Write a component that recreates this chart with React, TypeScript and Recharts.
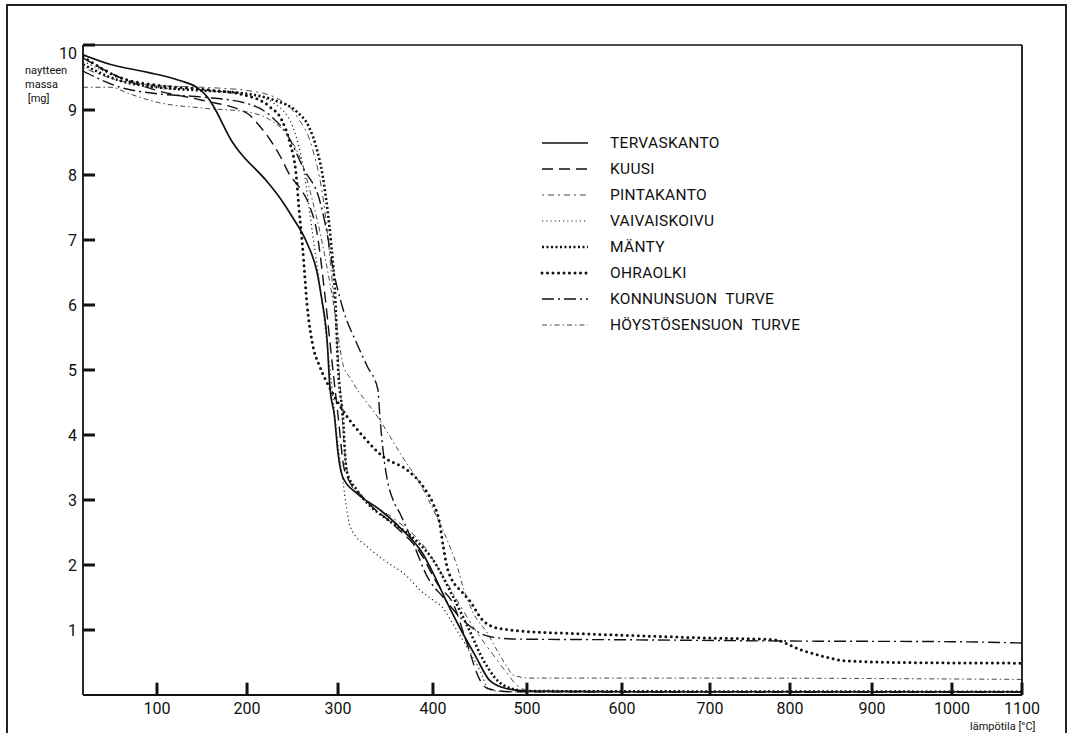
import React from "react";
import { LineChart, Line, XAxis, YAxis, Legend, ReferenceLine } from "recharts";

// ==================== DATA ====================
const X_TICKS = [100, 200, 300, 400, 500, 600, 700, 800, 900, 1000, 1100];
const Y_TICKS = [1, 2, 3, 4, 5, 6, 7, 8, 9, 10];

const SERIES_NAMES = [
  "TERVASKANTO",
  "KUUSI",
  "PINTAKANTO",
  "VAIVAISKOIVU",
  "MÄNTY",
  "OHRAOLKI",
  "KONNUNSUON  TURVE",
  "HÖYSTÖSENSUON  TURVE",
];

// [lämpötila °C, massa mg]
const TERVASKANTO = [
  [20, 9.85], [50, 9.7], [90, 9.58], [126, 9.45], [144, 9.35], [156, 9.2], [163, 9.05],
  [184, 8.5], [192, 8.35], [222, 7.9], [236, 7.65], [250, 7.35], [266, 6.95], [277, 6.5],
  [282, 6.1], [288, 5.45], [291, 4.75], [296, 4.3], [300, 3.72], [305, 3.35], [320, 3.1],
  [344, 2.85], [365, 2.58], [389, 2.18], [400, 1.88], [415, 1.42], [428, 1.05], [446, 0.58],
  [460, 0.23], [478, 0.1], [500, 0.06], [600, 0.05], [1100, 0.05],
];
const KUUSI = [
  [20, 9.8], [60, 9.5], [100, 9.3], [150, 9.15], [200, 8.95], [214, 8.75], [225, 8.55],
  [236, 8.3], [247, 8.0], [258, 7.8], [268, 7.55], [277, 7.1], [286, 6.1], [294, 5.05],
  [300, 4.3], [307, 3.45], [329, 3.0], [360, 2.6], [386, 2.2], [407, 1.66], [421, 1.42],
  [436, 0.8], [450, 0.23], [458, 0.1], [482, 0.05], [1100, 0.04],
];
const PINTAKANTO = [
  [20, 9.65], [60, 9.45], [100, 9.38], [150, 9.35], [200, 9.3], [230, 9.2], [255, 8.9],
  [272, 8.4], [284, 7.6], [292, 6.6], [298, 5.6], [303, 4.6], [308, 3.6], [315, 3.2],
  [335, 2.95], [360, 2.7], [390, 2.3], [410, 1.85], [428, 1.4], [445, 1.0], [465, 0.6],
  [478, 0.35], [492, 0.12], [510, 0.05], [1100, 0.05],
];
const VAIVAISKOIVU = [
  [20, 9.75], [60, 9.5], [100, 9.35], [150, 9.3], [200, 9.25], [230, 9.1], [250, 8.75],
  [262, 8.1], [272, 7.1], [280, 6.3], [288, 5.4], [295, 4.5], [300, 3.85], [305, 3.3],
  [313, 2.58], [331, 2.28], [348, 2.08], [373, 1.82], [386, 1.62], [400, 1.46], [410, 1.35],
  [421, 1.1], [436, 0.74], [450, 0.38], [460, 0.08], [480, 0.05], [1100, 0.05],
];
const MANTY = [
  [20, 9.7], [60, 9.45], [100, 9.35], [150, 9.3], [200, 9.25], [230, 9.15], [255, 8.97],
  [268, 8.74], [277, 8.38], [283, 8.0], [286, 7.72], [289, 7.4], [292, 7.0], [297, 6.1],
  [300, 5.05], [305, 4.3], [309, 3.45], [320, 3.15], [333, 2.92], [352, 2.7], [382, 2.38],
  [400, 2.08], [420, 1.55], [437, 1.05], [455, 0.5], [475, 0.15], [500, 0.06], [1100, 0.05],
];
const OHRAOLKI = [
  [20, 9.82], [60, 9.5], [100, 9.38], [150, 9.32], [200, 9.22], [225, 9.05], [238, 8.85],
  [247, 8.5], [254, 8.0], [257, 7.5], [261, 6.9], [266, 6.0], [272, 5.4], [280, 5.05],
  [290, 4.75], [305, 4.38], [327, 3.97], [348, 3.66], [373, 3.46], [390, 3.2], [400, 2.95],
  [407, 2.65], [411, 2.28], [415, 1.97], [420, 1.78], [430, 1.6], [439, 1.45], [453, 1.15],
  [464, 1.05], [482, 1.0], [506, 0.97], [542, 0.95], [600, 0.92], [690, 0.88], [780, 0.85],
  [812, 0.7], [845, 0.58], [864, 0.53], [935, 0.5], [1100, 0.49],
];
const KONNUNSUON = [
  [20, 9.6], [60, 9.35], [100, 9.25], [150, 9.2], [200, 9.1], [225, 8.92], [245, 8.6],
  [262, 8.1], [280, 7.6], [288, 7.1], [294, 6.6], [305, 5.95], [320, 5.4], [331, 5.05],
  [342, 4.7], [344, 4.3], [347, 3.82], [352, 3.3], [358, 3.0], [365, 2.8], [379, 2.34],
  [394, 1.82], [411, 1.5], [432, 1.15], [460, 0.9], [489, 0.86], [600, 0.85], [800, 0.83],
  [1000, 0.82], [1100, 0.8],
];
const HOYSTOSENSUON = [
  [20, 9.35], [50, 9.35], [70, 9.25], [100, 9.12], [150, 9.03], [200, 8.97], [225, 8.85],
  [245, 8.6], [260, 8.2], [272, 7.6], [282, 7.0], [289, 6.5], [297, 5.85], [305, 5.1],
  [314, 4.85], [344, 4.23], [368, 3.66], [386, 3.26], [397, 2.95], [418, 2.28], [426, 1.97],
  [432, 1.66], [443, 1.26], [458, 0.95], [468, 0.69], [479, 0.43], [485, 0.31], [503, 0.26],
  [700, 0.26], [1100, 0.24],
];

const SERIES_DATA = [
  TERVASKANTO, KUUSI, PINTAKANTO, VAIVAISKOIVU, MANTY, OHRAOLKI, KONNUNSUON, HOYSTOSENSUON,
];

// ==================== STYLES ====================
const INK = "#111";
const FONT = "Roboto, 'DejaVu Sans', sans-serif";
const TICK_LEN_T = 13; // inward tick length in °C near the origin (~12 px)
const TICK_LEN_M = 0.19; // inward tick length in mg (~12 px)

const LINE_STYLES = [
  { width: 1.7, dash: undefined, cap: "butt", color: INK },
  { width: 1.4, dash: "11 6", cap: "butt", color: INK },
  { width: 0.9, dash: "2 4 6 4", cap: "butt", color: "#333" },
  { width: 1.2, dash: "1.2 3", cap: "butt", color: "#222" },
  { width: 2.6, dash: "2 2.5", cap: "butt", color: INK },
  { width: 3, dash: "0 5.5", cap: "round", color: INK },
  { width: 1.4, dash: "12 4 2 4", cap: "butt", color: INK },
  { width: 0.9, dash: "5 3 1.5 3", cap: "butt", color: "#333" },
];

// recorder's temperature axis is compressed at high end: calibration of the paper
const AXIS_T = [20, 100, 200, 300, 400, 500, 600, 700, 800, 900, 1000, 1100];
const AXIS_F = [0, 0.0788, 0.1747, 0.2716, 0.3727, 0.4728, 0.574, 0.6677, 0.7529, 0.8403, 0.9254, 1];

function warpScale(dom: number[] = [20, 1100], rng: number[] = [0, 1]): any {
  let d = dom.slice();
  let r = rng.slice();
  const toFrac = (t: number) => {
    let i = 0;
    while (i < AXIS_T.length - 2 && t > AXIS_T[i + 1]) i++;
    const k = (t - AXIS_T[i]) / (AXIS_T[i + 1] - AXIS_T[i]);
    return AXIS_F[i] + k * (AXIS_F[i + 1] - AXIS_F[i]);
  };
  const fromFrac = (f: number) => {
    let i = 0;
    while (i < AXIS_F.length - 2 && f > AXIS_F[i + 1]) i++;
    const k = (f - AXIS_F[i]) / (AXIS_F[i + 1] - AXIS_F[i]);
    return AXIS_T[i] + k * (AXIS_T[i + 1] - AXIS_T[i]);
  };
  const s: any = (t: number) => r[0] + toFrac(Number(t)) * (r[1] - r[0]);
  s.domain = (nd?: number[]) => {
    if (nd === undefined) return d.slice();
    d = nd.slice();
    return s;
  };
  s.range = (nr?: number[]) => {
    if (nr === undefined) return r.slice();
    r = nr.slice();
    return s;
  };
  s.invert = (p: number) => fromFrac((p - r[0]) / (r[1] - r[0]));
  s.ticks = () => X_TICKS;
  s.tickFormat = () => (v: number) => String(v);
  s.copy = () => warpScale(d, r);
  return s;
}

const toPoints = (arr: number[][]) => arr.map(([t, m]) => ({ t, m }));

function YTick(props: any) {
  const { x, y, payload } = props;
  const dy = payload.value === 10 ? 8 : 0;
  return (
    <text x={x} y={y + dy} dy="0.35em" textAnchor="end" fontSize={16} fill={INK} fontFamily={FONT}>
      {payload.value}
    </text>
  );
}

function XTick(props: any) {
  const { x, y, payload } = props;
  return (
    <text x={x} y={y} dy="0.71em" textAnchor="middle" fontSize={16} fill={INK} fontFamily={FONT}>
      {payload.value}
    </text>
  );
}

// ==================== LEGEND ====================
function LegendBox() {
  return (
    <div style={{ fontFamily: FONT }}>
      {SERIES_NAMES.map((name, i) => {
        const st = LINE_STYLES[i];
        return (
          <div key={name} style={{ display: "flex", alignItems: "center", height: 26 }}>
            <svg width={50} height={10} style={{ marginRight: 20 }}>
              <line
                x1={2}
                x2={48}
                y1={5}
                y2={5}
                stroke={st.color}
                strokeWidth={st.width}
                strokeDasharray={st.dash}
                strokeLinecap={st.cap as any}
              />
            </svg>
            <span style={{ fontSize: 15.5, color: INK, whiteSpace: "pre", letterSpacing: 0.3 }}>
              {name}
            </span>
          </div>
        );
      })}
    </div>
  );
}

// ==================== CHART ====================
export default function App() {
  return (
    <div style={{ position: "absolute", left: 0, top: 0, width: 1069, height: 733, background: "white", overflow: "hidden" }}>
      <div
        style={{
          position: "absolute",
          left: 6,
          top: 4,
          width: 1057,
          height: 760,
          border: "2px solid #222",
          borderBottom: "none",
        }}
      />
      <LineChart width={1069} height={733} margin={{ top: 44, right: 46, bottom: 8, left: 23 }}>
        <XAxis
          dataKey="t"
          type="number"
          domain={[20, 1100]}
          scale={warpScale()}
          ticks={X_TICKS}
          allowDataOverflow
          height={30}
          tickLine={false}
          tickSize={0}
          tickMargin={8}
          stroke={INK}
          strokeWidth={1.8}
          tick={<XTick />}
        />
        <XAxis
          xAxisId="top"
          orientation="top"
          dataKey="t"
          type="number"
          domain={[20, 1100]}
          scale={warpScale()}
          ticks={X_TICKS}
          allowDataOverflow
          height={1}
          tick={false}
          tickLine={false}
          stroke={INK}
          strokeWidth={1.5}
        />
        <YAxis
          type="number"
          domain={[0, 10]}
          ticks={Y_TICKS}
          allowDataOverflow
          width={60}
          tickLine={false}
          tickSize={0}
          tickMargin={6}
          stroke={INK}
          strokeWidth={1.8}
          tick={<YTick />}
        />
        <YAxis
          yAxisId="right"
          orientation="right"
          type="number"
          domain={[0, 10]}
          ticks={Y_TICKS}
          allowDataOverflow
          width={1}
          tick={false}
          tickLine={false}
          stroke={INK}
          strokeWidth={1.8}
        />
        {/* inward tick marks, as on the recorder paper */}
        {Y_TICKS.map((v) => (
          <ReferenceLine
            key={`ty${v}`}
            segment={[{ x: 20, y: v }, { x: 20 + TICK_LEN_T, y: v }]}
            stroke={INK}
            strokeWidth={3}
            ifOverflow="visible"
          />
        ))}
        {X_TICKS.map((v) => (
          <ReferenceLine
            key={`tx${v}`}
            segment={[{ x: v, y: 0 }, { x: v, y: TICK_LEN_M }]}
            stroke={INK}
            strokeWidth={3}
            ifOverflow="visible"
          />
        ))}
        {SERIES_DATA.map((arr, i) => (
          <Line
            key={SERIES_NAMES[i]}
            name={SERIES_NAMES[i]}
            data={toPoints(arr)}
            dataKey="m"
            type="monotone"
            stroke={LINE_STYLES[i].color}
            strokeWidth={LINE_STYLES[i].width}
            strokeDasharray={LINE_STYLES[i].dash}
            strokeLinecap={LINE_STYLES[i].cap as any}
            dot={false}
            activeDot={false}
            isAnimationActive={false}
          />
        ))}
        <Legend
          layout="vertical"
          align="center"
          verticalAlign="middle"
          wrapperStyle={{ position: "absolute", left: 540, top: 130, width: 320 }}
          content={() => <LegendBox />}
        />
      </LineChart>
      <div
        style={{
          position: "absolute",
          left: 25,
          top: 64,
          fontFamily: FONT,
          fontSize: 11,
          lineHeight: "14px",
          color: INK,
        }}
      >
        naytteen
        <br />
        massa
        <br />
        &nbsp;[mg]
      </div>
      <div
        style={{
          position: "absolute",
          left: 970,
          top: 720,
          fontFamily: FONT,
          fontSize: 11,
          color: INK,
        }}
      >
        lämpötila [°C]
      </div>
    </div>
  );
}
